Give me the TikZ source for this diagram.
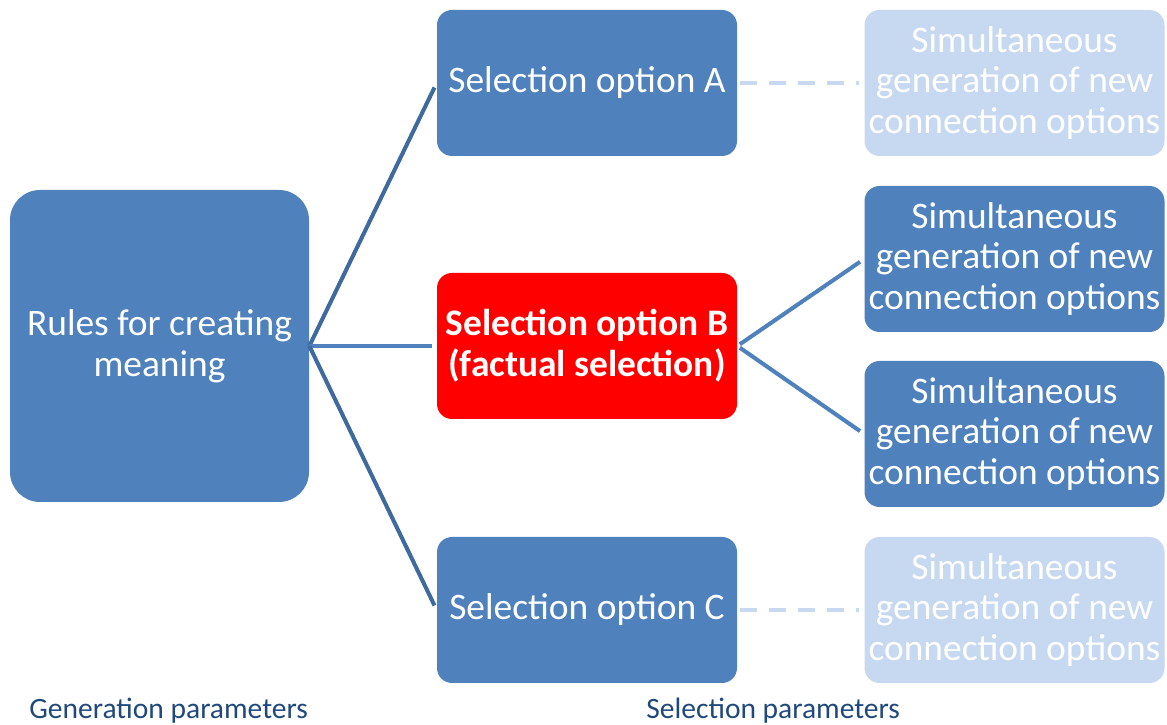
\documentclass[tikz,border=0pt]{standalone}
\usepackage{fontspec}
\setmainfont{Carlito}
\usetikzlibrary{positioning}

\definecolor{boxblue}{RGB}{79,129,189}
\definecolor{fadeblue}{RGB}{198,217,240}
\definecolor{linkdark}{RGB}{62,106,158}
\definecolor{capblue}{RGB}{31,73,125}

\tikzset{
  optbox/.style={rectangle, rounded corners=0.3cm, fill=boxblue, text=white,
    minimum width=6cm, minimum height=2.92cm, align=center, inner sep=0pt,
    font=\fontsize{21.3}{23.2}\selectfont},
  fadebox/.style={optbox, fill=fadeblue},
  factbox/.style={optbox, fill=red, font=\fontsize{21.3}{23.2}\selectfont\bfseries},
  link/.style={line width=2.3pt, boxblue, shorten >=0.1cm},
  fadelink/.style={line width=2.3pt, fadeblue, dash pattern=on 0.34cm off 0.24cm, shorten >=0.1cm, shorten <=0.06cm},
  caption/.style={text=capblue, inner sep=0pt, font=\fontsize{16.8}{20}\selectfont}
}

\begin{document}
\begin{tikzpicture}
\useasboundingbox (0,0) rectangle (23.34,-14.5);

% generation side
\node[optbox, rounded corners=0.6cm, minimum width=5.98cm, minimum height=6.24cm] (rules) at (3.19,-6.92) {Rules for creating\\meaning};

% selection options
\node[optbox]  (optA) at (11.74,-1.66)  {Selection option A};
\node[factbox] (optB) at (11.74,-6.92)  {Selection option B\\(factual selection)};
\node[optbox]  (optC) at (11.74,-12.2)  {Selection option C};

% new connection options
\node[fadebox] (genA)  at (20.29,-1.66)  {Simultaneous\\generation of new\\connection options};
\node[optbox]  (genB1) at (20.29,-5.18)  {Simultaneous\\generation of new\\connection options};
\node[optbox]  (genB2) at (20.29,-8.68)  {Simultaneous\\generation of new\\connection options};
\node[fadebox] (genC)  at (20.29,-12.2)  {Simultaneous\\generation of new\\connection options};

% links
\draw[link, linkdark] (rules.east) -- (optA.west);
\draw[link] (rules.east) -- (optB.west);
\draw[link, linkdark] (rules.east) -- (optC.west);
\draw[link, shorten <=0.06cm] (optB.east) -- (genB1.west);
\draw[link, shorten <=0.06cm] (optB.east) -- (genB2.west);
\draw[fadelink] (optA.east) -- (genA.west);
\draw[fadelink] (optC.east) -- (genC.west);

% captions
\node[caption, anchor=base west] (gencap) at (0.58,-14.38) {Generation parameters};
\node[caption, anchor=base west] (selcap) at (12.92,-14.38) {Selection parameters};

\end{tikzpicture}
\end{document}
